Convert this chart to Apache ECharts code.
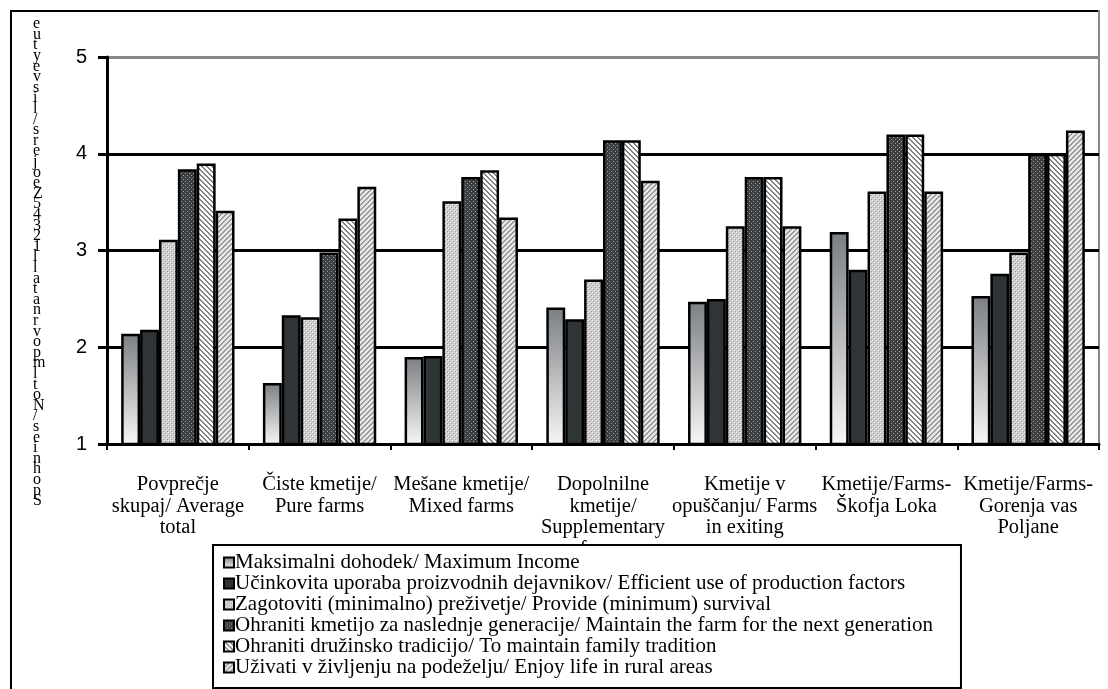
<!DOCTYPE html>
<html>
<head>
<meta charset="utf-8">
<script src="https://cdn.jsdelivr.net/npm/echarts@6/dist/echarts.min.js"></script>
<style>
html,body{margin:0;padding:0;background:#fff;}
#c{width:1108px;height:689px;}
</style>
</head>
<body>
<div id="c"></div>
<script>
const categories = [
  "Povprečje\nskupaj/ Average\ntotal",
  "Čiste kmetije/\nPure farms",
  "Mešane kmetije/\nMixed farms",
  "Dopolnilne\nkmetije/\nSupplementary\nfarms",
  "Kmetije v\nopuščanju/ Farms\nin exiting",
  "Kmetije/Farms-\nŠkofja Loka",
  "Kmetije/Farms-\nGorenja vas\nPoljane"
];
const seriesNames = [
  "Maksimalni dohodek/ Maximum Income",
  "Učinkovita uporaba proizvodnih dejavnikov/ Efficient use of production factors",
  "Zagotoviti (minimalno) preživetje/ Provide (minimum) survival",
  "Ohraniti kmetijo za naslednje generacije/ Maintain the farm for the next generation",
  "Ohraniti družinsko tradicijo/ To maintain family tradition",
  "Uživati v življenju na podeželju/ Enjoy life in rural areas"
];
const maxIncome   = [2.14, 1.63, 1.90, 2.41, 2.47, 3.19, 2.53];
const efficient   = [2.18, 2.33, 1.91, 2.29, 2.50, 2.80, 2.76];
const survival    = [3.11, 2.31, 3.51, 2.70, 3.25, 3.61, 2.98];
const maintain    = [3.84, 2.98, 3.76, 4.14, 3.76, 4.20, 4.00];
const tradition   = [3.90, 3.33, 3.83, 4.14, 3.76, 4.20, 4.00];
const enjoy       = [3.41, 3.66, 3.34, 3.72, 3.25, 3.61, 4.24];
const yTicks = [1, 2, 3, 4, 5];
const yTitleChars = "eutyevsil/srejoeZ54321llatanrvopmltoN/seinhopS".split("");

function pattern(w, h, draw) {
  const c = document.createElement('canvas');
  c.width = w; c.height = h;
  const g = c.getContext('2d');
  draw(g, w, h);
  return {image: c, repeat: 'repeat'};
}
const pDots = pattern(4, 4, (g) => {
  g.fillStyle = '#cfcfcf'; g.fillRect(0, 0, 4, 4);
  g.fillStyle = '#f4f4f4'; g.fillRect(0, 0, 1, 1); g.fillRect(2, 2, 1, 1);
  g.fillStyle = '#9a9a9a'; g.fillRect(1, 1, 1, 1); g.fillRect(3, 3, 1, 1);
});
const pDarkDots = pattern(4, 4, (g) => {
  g.fillStyle = '#3c3f41'; g.fillRect(0, 0, 4, 4);
  g.fillStyle = '#a0a0a0'; g.fillRect(1, 1, 1, 1); g.fillRect(3, 3, 1, 1);
});
const pBack = pattern(5, 5, (g) => {
  g.fillStyle = '#ffffff'; g.fillRect(0, 0, 5, 5);
  g.fillStyle = '#808080';
  for (let i = 0; i < 5; i++) { g.fillRect(i, i, 1, 1); g.fillRect((i + 1) % 5, i, 1, 1); }
});
const pFwd = pattern(5, 5, (g) => {
  g.fillStyle = '#e6e6e6'; g.fillRect(0, 0, 5, 5);
  g.fillStyle = '#9a9a9a';
  for (let i = 0; i < 5; i++) { g.fillRect(4 - i, i, 1, 1); g.fillRect((5 - i) % 5, i, 1, 1); }
});
const gradFill = new echarts.graphic.LinearGradient(0, 0, 0, 1, [
  {offset: 0, color: '#7b7f83'},
  {offset: 1, color: '#f7f7f7'}
]);
const fills = [gradFill, '#2f3437', pDots, pDarkDots, pBack, pFwd];
const dataSets = [maxIncome, efficient, survival, maintain, tradition, enjoy];

const chart = echarts.init(document.getElementById('c'), null, {renderer: 'canvas'});
const serif = '"Liberation Serif", "Times New Roman", serif';
chart.setOption({
  animation: false,
  backgroundColor: '#fff',
  grid: {left: 107, right: 9, top: 57, bottom: 245, containLabel: false},
  xAxis: {
    type: 'category',
    data: categories,
    axisLine: {lineStyle: {color: '#000', width: 3}},
    axisTick: {show: true, length: 6, lineStyle: {color: '#000', width: 2}},
    axisLabel: {interval: 0, color: '#000', fontFamily: serif, fontSize: 20.5, lineHeight: 21.5, margin: 30}
  },
  yAxis: {
    type: 'value', min: 1, max: 5, interval: 1,
    axisLine: {show: true, lineStyle: {color: '#000', width: 3}},
    axisTick: {show: true, length: 9, lineStyle: {color: '#000', width: 3}},
    axisLabel: {color: '#000', fontFamily: '"Liberation Sans", Arial, sans-serif', fontSize: 20, margin: 20,
      formatter: (v) => yTicks.includes(v) ? String(v) : ''},
    splitLine: {show: true, lineStyle: {color: ['#000', '#000', '#000', '#000', '#888'], width: 3}}
  },
  legend: {
    orient: 'vertical',
    left: 213, top: 545,
    height: 160,
    padding: [7, 28, 10, 10],
    itemWidth: 10, itemHeight: 10, itemGap: 0,
    backgroundColor: '#fff',
    borderColor: '#000', borderWidth: 2,
    textStyle: {color: '#000', fontFamily: serif, fontSize: 21, lineHeight: 20, padding: [0, 0, 0, -4]},
    data: seriesNames.map((n) => ({name: n, icon: 'rect'}))
  },
  graphic: [
    {type: 'line', shape: {x1: 10, y1: 11, x2: 1099, y2: 11}, style: {stroke: '#000', lineWidth: 2}},
    {type: 'line', shape: {x1: 11, y1: 10, x2: 11, y2: 689}, style: {stroke: '#000', lineWidth: 2}},
    {type: 'line', shape: {x1: 1099, y1: 10, x2: 1099, y2: 446}, style: {stroke: '#888', lineWidth: 2}},
    {type: 'text', left: 33, top: 16,
      style: {text: yTitleChars.join('\n'), fontFamily: serif, fontSize: 16, lineHeight: 10.6, fill: '#000', align: 'center'}}
  ],
  series: dataSets.map((d, i) => ({
    name: seriesNames[i],
    type: 'bar',
    data: d,
    barGap: '0%',
    barCategoryGap: '20%',
    itemStyle: {color: fills[i], borderColor: '#000', borderWidth: 2.5}
  }))
});
</script>
</body>
</html>
